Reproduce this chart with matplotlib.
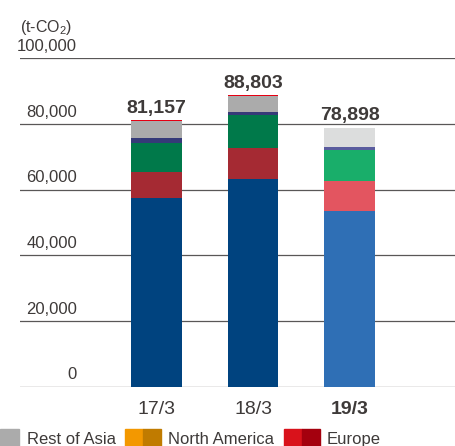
import matplotlib.pyplot as plt
from matplotlib.patches import Rectangle

plt.rcParams['font.family'] = ['Liberation Sans', 'DejaVu Sans']
plt.rcParams['mathtext.default'] = 'regular'

years = ['17/3', '18/3', '19/3']
# emissions by region, t-CO2 (stacked bottom to top)
japan = [57300, 63100, 53350]
china = [8200, 9650, 9120]
se_asia = [8700, 9950, 9740]
other_asia = [1600, 1000, 900]
rest_of_asia = [5100, 4850, 5590]
north_america = [0, 0, 198]
europe = [257, 253, 0]

series = [japan, china, se_asia, other_asia, rest_of_asia, north_america, europe]
# colours: past years darker, latest year lighter
dark = ['#00437f', '#a52a33', '#00794a', '#353a78', '#ababab', '#c07b00', '#e50012']
light = ['#2f6fb5', '#e35560', '#19ae6a', '#5a5c9e', '#dcdddd', '#f39800', '#e50012']

legend_names = ['Rest of Asia', 'North America', 'Europe']
legend_cols = [('#ababab', '#ababab'), ('#f39800', '#c07b00'), ('#d9121b', '#a4000e')]

TXT = '#3e3a39'
GRID = '#595757'

W, H = 456, 446
fig = plt.figure(figsize=(W / 100, H / 100), dpi=100)
ax = fig.add_axes([20 / W, (H - 386.5) / H, 436 / W, 328.2 / H])
ax.set_xlim(-1.4145, 3.1036)
ax.set_ylim(0, 100000)
ax.axis('off')

for v in range(0, 100001, 20000):
    ax.axhline(v, color=GRID, lw=0.9, zorder=1)
    ax.annotate(f'{v:,}', xy=(57 / 436, v), xycoords=('axes fraction', 'data'),
                xytext=(0, 5.2), textcoords='offset points', ha='right', va='baseline',
                fontsize=12, color=TXT)
fig.text(20 / W, 1 - 32 / H, '(t-CO$_2$)', fontsize=11.5, color=TXT, ha='left', va='baseline')

x = list(range(len(years)))
bottoms = [0] * len(years)
for k, s in enumerate(series):
    cols = [dark[k], dark[k], light[k]]
    ax.bar(x, s, width=0.528, bottom=bottoms, color=cols, linewidth=0, zorder=2)
    bottoms = [b + v for b, v in zip(bottoms, s)]

for i, tot in enumerate(bottoms):
    ax.annotate(f'{tot:,}', xy=(i, tot), xytext=(0, 5.2), textcoords='offset points',
                ha='center', va='baseline', fontsize=14, fontweight='bold', color=TXT)
    ax.annotate(years[i], xy=(i, 0), xytext=(0, -19.5), textcoords='offset points',
                ha='center', va='baseline', fontsize=14,
                fontweight='bold' if i == len(years) - 1 else 'normal', color=TXT)

# legend along the bottom edge
leg_x = [0, 125, 284]
for lx, name, (c1, c2) in zip(leg_x, legend_names, legend_cols):
    if c1 == c2:
        fig.patches.append(Rectangle((lx / W, 0), 19 / W, 17 / H, color=c1,
                                     transform=fig.transFigure, figure=fig))
        tx = lx + 27
    else:
        fig.patches.append(Rectangle((lx / W, 0), 18 / W, 17 / H, color=c1,
                                     transform=fig.transFigure, figure=fig))
        fig.patches.append(Rectangle(((lx + 18) / W, 0), 18 / W, 17 / H, color=c2,
                                     transform=fig.transFigure, figure=fig))
        tx = lx + 43
    fig.text(tx / W, 1.7 / H, name, fontsize=12, color=TXT, ha='left', va='baseline')

fig.savefig('out.png', dpi=100)
